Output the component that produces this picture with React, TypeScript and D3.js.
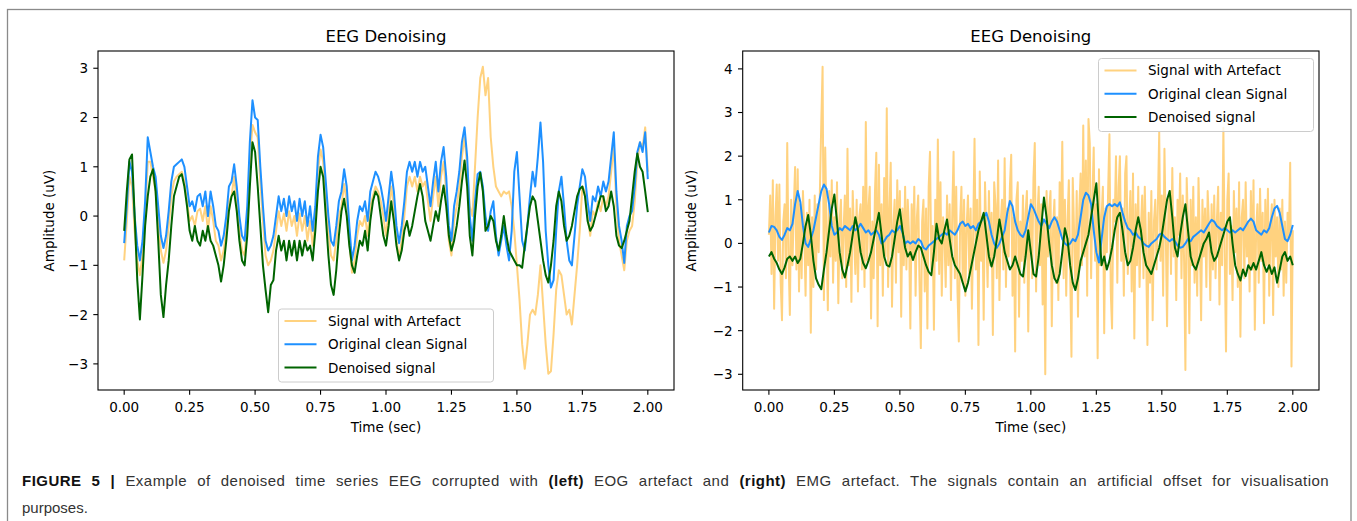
import React from 'react';
import * as d3 from 'd3';

const W = 1357;
const H = 521;

// sampling steps (sec)
const STEP_SLOW = 0.01;
const STEP_FAST = 0.005;

const X_TICKS = [0, 0.25, 0.5, 0.75, 1, 1.25, 1.5, 1.75, 2];
const X_TICK_LABELS = ['0.00', '0.25', '0.50', '0.75', '1.00', '1.25', '1.50', '1.75', '2.00'];
const LEFT_Y_TICKS = [-3, -2, -1, 0, 1, 2, 3];
const RIGHT_Y_TICKS = [-3, -2, -1, 0, 1, 2, 3, 4];
const SERIES_NAMES = ['Signal with Artefact', 'Original clean Signal', 'Denoised signal'];

// left panel: EOG artefact, 0.01 s step
const LEFT_ARTEFACT = [
  -0.9, -0.1, 0.8, 0.6, -0.3, -0.9, -1.2, -0.8, 0.0, 1.1,
  1.1, 0.8, 0.5, -0.1, -0.7, -0.95, -0.7, -0.2, 0.4, 0.7,
  0.8, 0.85, 0.9, 0.7, 0.3, -0.1, 0.0, -0.2, 0.1, 0.15,
  -0.1, 0.2, -0.3, 0.2, -0.1, -0.5, -0.6, -0.9, -0.7, -0.3,
  0.3, 0.4, 0.8, 0.3, -0.3, -0.7, -0.8, -0.1, 1.1, 1.85,
  1.7, 1.6, 0.7, -0.1, -0.8, -1.0, -0.9, -0.7, -0.3, 0.1,
  -0.2, 0.05, -0.3, 0.1, -0.2, 0.0, -0.4, 0.05, -0.3, 0.0,
  -0.5, -0.1, -0.6, -0.1, 0.9, 1.35, 1.1, 0.4, -0.3, -0.8,
  -0.9, -0.5, 0.0, 0.2, 0.65, 0.3, -0.5, -1.15, -0.9, -0.4,
  -0.1, -0.2, 0.0, -0.4, 0.2, 0.4, 0.6, 0.5, 0.3, 0.0,
  -0.4, 0.1, 0.6, 0.2, -0.5, -0.85, -0.5, 0.0, 0.6, 0.8,
  0.6, 0.8, 0.5, 0.8, 0.6, 0.7, 0.3, -0.1, 0.4, 0.8,
  0.2, 0.8, 1.1, 0.5, -0.5, -0.8, -0.1, 0.2, 0.6, 1.2,
  1.6, 1.0, 0.2, 0.0, 1.0, 2.0, 2.8, 3.03, 2.45, 2.8,
  1.6, 1.0, 0.6, 0.5, 0.4, 0.5, 0.45, 0.5, 0.2, -0.3,
  -1.0, -1.7, -2.6, -3.1, -2.6, -2.0, -1.9, -2.0, -1.6, -1.0,
  -1.8, -2.6, -3.2, -3.15, -2.4, -1.5, -1.1, -1.2, -1.6, -2.0,
  -1.9, -2.2, -1.6, -1.0, -0.3, 0.6, 0.5, 0.0, -0.4, 0.1,
  0.0, 0.3, 0.1, 0.4, 0.2, 0.4, 0.9, 1.4, 0.2, -0.5,
  -0.8, -1.1, -0.5, -0.3, -0.2, 0.3, 1.1, 1.5, 1.4, 1.8,
  0.9,
];

const LEFT_CLEAN = [
  -0.55, 0.2, 1.1, 0.9, 0.0, -0.6, -0.9, -0.5, 0.3, 1.6,
  1.3, 1.0, 0.8, 0.2, -0.4, -0.65, -0.4, 0.1, 0.7, 1.0,
  1.05, 1.1, 1.15, 1.0, 0.6, 0.2, 0.3, 0.1, 0.4, 0.45,
  0.2, 0.5, 0.0, 0.5, 0.2, -0.2, -0.3, -0.6, -0.4, 0.0,
  0.6, 0.7, 1.05, 0.6, 0.0, -0.4, -0.5, 0.2, 1.5, 2.35,
  2.0, 1.95, 1.0, 0.2, -0.5, -0.7, -0.6, -0.4, 0.0, 0.4,
  0.1, 0.35, 0.0, 0.4, 0.1, 0.3, -0.1, 0.35, 0.0, 0.3,
  -0.2, 0.2, -0.3, 0.2, 1.2, 1.65, 1.4, 0.7, 0.0, -0.5,
  -0.6, -0.2, 0.3, 0.5, 0.95, 0.6, -0.2, -0.9, -0.6, -0.1,
  0.2, 0.1, 0.3, -0.1, 0.5, 0.7, 0.9, 0.8, 0.6, 0.3,
  -0.1, 0.4, 0.9, 0.5, -0.2, -0.55, -0.2, 0.3, 0.9, 1.1,
  0.9, 1.1, 0.8, 1.1, 0.9, 1.0, 0.6, 0.2, 0.7, 1.1,
  0.5, 1.1, 1.4, 0.8, -0.2, -0.5, 0.2, 0.5, 0.9, 1.5,
  1.8, 1.2, 0.0, -0.5, 0.3, 0.85, 0.9, 0.6, 0.0, -0.3,
  0.1, 0.3, -0.4, -0.8, -0.5, -0.2, -0.6, -0.9, -0.3, 0.9,
  1.3, 0.4, -0.5, -0.7, -0.2, 0.4, 0.9, 0.6, 1.2, 1.9,
  1.1, -0.3, -1.0, -1.45, -1.3, -0.3, 0.5, 0.8, 0.2, -0.5,
  -0.9, -1.0, -0.4, 0.2, 0.6, 0.95, 0.8, 0.3, -0.1, 0.4,
  0.3, 0.6, 0.4, 0.7, 0.5, 0.7, 1.2, 1.7, 0.5, -0.2,
  -0.5, -0.95, -0.2, 0.0, 0.1, 0.6, 1.3, 1.5, 1.3, 1.7,
  0.75,
];

const LEFT_DENOISED = [
  -0.3, 0.5, 1.15, 1.25, 0.0, -1.3, -2.1, -1.2, -0.2, 0.4,
  0.8, 0.95, 0.5, -0.5, -1.6, -2.05, -1.4, -0.9, -0.2, 0.4,
  0.6, 0.8, 0.85, 0.6, 0.2, -0.3, -0.5, -0.2, -0.5, -0.6,
  -0.3, -0.5, -0.2, -0.5, -0.6, -0.8, -1.0, -1.33, -1.0, -0.5,
  0.1, 0.4, 0.5, 0.1, -0.5, -0.9, -1.0, -0.4, 0.6, 1.5,
  1.3, 0.6, -0.2, -1.0, -1.5, -1.95, -1.4, -1.3, -0.7, -0.4,
  -0.7, -0.5, -0.9, -0.5, -0.8, -0.5, -0.9, -0.5, -0.8, -0.5,
  -0.7, -0.6, -0.9, -0.3, 0.5, 1.0, 0.8, 0.0, -0.8, -1.4,
  -1.6, -1.1, -0.4, 0.1, 0.35, 0.0, -0.6, -1.0, -1.15, -0.8,
  -0.5, -0.6, -0.3, -0.7, -0.1, 0.3, 0.5, 0.4, 0.0, -0.4,
  -0.6, -0.2, 0.3, -0.1, -0.6, -0.9, -0.7, -0.3, -0.1, -0.4,
  -0.2, 0.1, 0.4, 0.65, 0.4, -0.1, -0.3, -0.5, -0.2, 0.1,
  -0.1, 0.3, 0.62, 0.2, -0.4, -0.7, -0.5, -0.2, 0.2, 0.7,
  1.13, 0.6, -0.4, -0.8, 0.0, 0.6, 0.88, 0.5, -0.3, -0.2,
  0.0, -0.1, -0.5, -0.7, -0.4, 0.0, -0.4, -0.7, -0.8, -0.9,
  -1.0, -1.0, -1.05, -0.6, -0.2, 0.2, 0.4, 0.3, -0.1, -0.5,
  -0.9, -1.2, -1.35, -1.0, -0.5, 0.2, 0.5, 0.3, -0.2, -0.5,
  -0.4, -0.2, 0.1, 0.4, 0.55, 0.6, 0.4, -0.1, -0.3, -0.2,
  0.0, 0.2, 0.4, 0.4, 0.1, 0.2, 0.5, 0.2, -0.4, -0.6,
  -0.65, -0.5, -0.3, -0.1, 0.4, 0.9, 1.27, 1.0, 0.9, 0.5,
  0.08,
];

// right panel: EMG artefact, 0.005 s step
const RIGHT_ARTEFACT = [
  0.2, 1.1, -0.7, 1.45, -1.5, 0.6, 1.35, -0.4, 1.35, -0.9,
  -1.76, 0.5, 0.9, -0.8, 2.3, -0.3, -1.64, 1.0, -0.5, 0.8,
  1.75, -0.6, 1.7, -1.1, 0.9, -0.8, 1.2, 0.3, -1.2, 0.7,
  -0.5, 1.0, -2.05, 0.6, -1.0, 1.1, -0.6, 0.9, -0.2, 1.3,
  2.78, 4.05, -1.3, 2.2, 0.4, -1.53, 1.2, -0.3, 1.45, -0.9,
  0.6, -0.4, 1.4, -1.37, 0.5, 1.0, -0.8, 0.3, 1.1, -1.0,
  2.17, -0.5, 0.8, -1.34, 1.2, 0.2, -0.7, 1.0, -1.1, 0.6,
  0.9, -0.6, 1.3, -1.0, 2.78, -0.4, 0.8, 1.3, -1.72, 0.5,
  -0.8, 1.2, 2.08, -1.9, 1.8, -0.5, 0.9, -1.2, 1.5, -0.3,
  3.1, -1.0, 0.7, 1.85, -1.45, 0.4, 1.0, -0.9, 1.45, -0.2,
  1.2, -1.68, 0.8, -0.5, 1.3, -0.6, 1.0, 0.2, -1.95, 0.9,
  -0.3, 1.3, -1.2, 0.6, 1.1, -0.9, -2.4, 0.5, 1.0, -1.1,
  0.8, -1.95, 1.3, 2.1, -0.6, 0.4, -1.98, 1.0, -0.4, 2.38,
  -0.7, 1.4, -1.2, 0.6, 0.2, -1.0, 1.1, -0.5, 0.9, -1.3,
  0.7, 2.1, -0.8, 1.3, -1.1, -2.25, 0.5, 1.3, -0.9, 1.0,
  -1.2, 0.4, 1.1, -0.7, 0.8, -1.5, 0.3, 2.4, -0.6, 1.0,
  -2.33, 1.65, -0.4, 0.6, -1.75, 1.4, 0.2, -1.0, 1.2, -0.5,
  0.7, -2.1, 1.4, 0.9, -0.8, 1.9, -1.3, 0.5, 1.0, -0.6,
  1.95, -1.0, 0.8, -0.3, 1.3, 2.03, -1.2, 0.6, -2.48, 1.0,
  1.4, -1.68, 0.5, -0.4, 1.1, -0.9, 0.7, 1.2, -2.02, 0.4,
  1.0, -0.8, 1.5, 2.3, -1.1, 0.6, 1.3, -0.5, 0.9, -1.4,
  0.5, -3.0, 1.2, -0.3, 0.8, 1.2, -1.9, 0.4, 1.0, -0.9,
  0.6, -1.3, 1.4, 0.2, 2.33, -0.8, 1.0, -1.2, 0.5, 1.45,
  -0.6, -2.6, 1.5, 0.3, -1.0, 1.2, -1.68, 0.8, 1.6, -0.5,
  2.7, -0.3, 1.9, -1.2, 2.85, 2.3, -0.8, 1.0, 2.2, -0.4,
  0.9, -2.63, 1.7, -0.5, 0.6, 1.3, -2.06, 0.8, -0.2, 1.2,
  2.5, -1.1, -1.95, 1.0, 0.5, 2.0, -0.9, 1.3, 2.0, -0.4,
  0.8, -1.2, 1.6, 2.0, -0.7, 0.4, 1.2, -1.1, 1.6, -2.18,
  0.9, -0.5, 1.3, -1.0, 0.3, 1.1, -0.8, 1.3, -0.2, -2.33,
  0.7, -0.9, 1.2, -1.76, 0.5, 1.0, -0.6, 0.9, 2.55, -0.4,
  1.1, -1.2, 2.17, 0.3, -1.9, 0.8, 1.2, -0.7, 1.73, -0.3,
  0.6, -1.3, 1.0, 0.2, 1.6, -0.8, 1.1, -0.4, -2.9, 1.5,
  0.4, -2.06, 1.0, -0.5, 1.3, -0.9, 0.6, -1.2, 1.5, 0.1,
  -1.76, 1.0, -0.3, 0.8, -1.0, 1.2, 0.4, -1.3, 0.9, -0.6,
  1.1, -0.8, 0.5, 1.3, -1.4, 0.7, -0.5, 2.65, -0.2, -2.48,
  1.0, 1.6, -0.7, 0.4, -1.3, 1.2, -0.2, 0.8, -1.0, 1.4,
  -2.14, 0.6, 1.0, -0.8, 1.4, -0.3, 0.5, -1.1, 1.2, -0.6,
  1.45, -1.98, 0.3, 0.9, -0.9, 1.25, -0.4, 0.7, -1.83, 1.0,
  -0.5, 1.25, -1.2, 0.4, 0.9, -1.64, 1.0, -0.3, 0.6, -1.0,
  0.8, -0.6, 1.0, -1.2, 0.5, -0.9, 0.7, 0.1, 1.85, -2.82,
  0.3,
];

const RIGHT_CLEAN = [
  0.25, 0.4, 0.38, 0.3, 0.15, 0.08, 0.2, 0.35, 0.3, 0.45,
  0.9, 1.2, 0.95, 0.4, 0.0, -0.08, 0.1, 0.3, 0.6, 0.9,
  1.2, 1.35, 1.25, 0.9, 0.4, 0.2, 0.25, 0.35, 0.3, 0.4,
  0.35, 0.3, 0.4, 0.3, 0.35, 0.45, 0.35, 0.25, 0.3, 0.2,
  0.25, 0.3, 0.2, 0.0, 0.05, 0.15, 0.2, 0.3, 0.25, 0.3,
  0.4, 0.25, 0.0, 0.05, 0.0, 0.05, 0.0, 0.1, 0.05, -0.1,
  -0.14, -0.05, 0.0, 0.05, 0.1, 0.15, 0.2, 0.25, 0.2, 0.3,
  0.25, 0.2, 0.3, 0.45, 0.5, 0.4, 0.45, 0.35, 0.4, 0.3,
  0.45, 0.5, 0.6, 0.7, 0.5, 0.2, 0.0, -0.1, 0.0, 0.15,
  0.3, 0.7, 0.97, 0.85, 0.5, 0.3, 0.2, 0.15, 0.3, 0.6,
  0.9, 0.8, 0.65, 0.5, 0.4, 0.55, 0.45, 0.35, 0.5, 0.6,
  0.5, 0.3, 0.1, 0.0, -0.05, 0.0, 0.1, 0.05, 0.2, 0.6,
  1.0, 1.16, 1.1, 0.9, 0.3, -0.2, -0.44, 0.1, 0.6, 0.85,
  0.9, 0.85, 0.9, 0.85, 0.94, 0.7, 0.5, 0.35, 0.3, 0.2,
  0.25, 0.15, 0.1, 0.0, -0.05, -0.08, 0.0, 0.05, 0.1, 0.2,
  0.23, 0.15, 0.1, 0.05, 0.1, 0.05, -0.05, -0.1, -0.08, 0.0,
  0.1, 0.05, 0.15, 0.2, 0.25, 0.3, 0.25, 0.35, 0.45, 0.54,
  0.5, 0.4, 0.35, 0.3, 0.35, 0.3, 0.25, 0.3, 0.25, 0.3,
  0.35, 0.3, 0.4, 0.5, 0.57, 0.5, 0.3, 0.25, 0.2, 0.3,
  0.25, 0.35, 0.6, 0.8, 0.86, 0.7, 0.4, 0.1, 0.05, 0.2,
  0.42,
];

const RIGHT_DENOISED = [
  -0.3, -0.2, -0.35, -0.45, -0.6, -0.7, -0.55, -0.35, -0.3, -0.4,
  -0.3, -0.45, -0.35, 0.0, 0.4, 0.65, 0.2, -0.4, -0.8, -0.95,
  -1.05, -0.6, -0.2, 0.3, 0.8, 1.12, 0.5, -0.2, -0.6, -0.78,
  -0.5, -0.2, 0.2, 0.6, 0.3, -0.2, -0.45, -0.57, -0.4, -0.2,
  0.1, 0.4, 0.7, 0.2, -0.3, -0.5, -0.53, -0.3, 0.1, 0.5,
  0.78, 0.3, -0.1, -0.3, -0.2, -0.38, -0.2, -0.05, -0.1, -0.3,
  -0.5, -0.65, -0.73, -0.2, 0.45, 0.1, 0.0, 0.3, 0.55, 0.1,
  -0.3, -0.5, -0.6, -0.7, -0.9, -1.1, -0.9, -0.6, -0.3, 0.0,
  0.3, 0.5, 0.7, 0.2, -0.3, -0.53, -0.3, 0.1, 0.55, 0.2,
  -0.2, -0.4, -0.6, -0.5, -0.3, -0.5, -0.7, -0.76, -0.3, 0.3,
  -0.2, -0.7, -0.76, -0.3, 0.4, 1.05, 0.6, 0.0, -0.5, -0.8,
  -0.9, -0.7, -0.2, 0.35, 0.1, -0.5, -0.9, -1.07, -0.8, -0.4,
  -0.2, 0.0, 0.2, 0.6, 1.0, 1.38, 0.4, -0.5, -0.3, -0.6,
  -0.4, -0.1, 0.3, 0.6, 0.7, 0.3, -0.2, -0.5, -0.4, -0.1,
  0.3, 0.6, 0.3, -0.2, -0.5, -0.6, -0.7, -0.5, -0.3, -0.1,
  0.2, 0.6, 1.0, 1.2, 0.6, -0.1, -0.3, 0.2, 0.6, 0.9,
  0.3, -0.3, -0.5, -0.6, -0.4, -0.2, 0.0, 0.1, 0.25, -0.2,
  -0.4, -0.3, -0.1, 0.1, 0.3, 0.5, 0.6, 0.0, -0.5, -0.7,
  -0.85, -0.6, -0.75, -0.5, -0.6, -0.45, -0.6, -0.4, -0.2, -0.5,
  -0.65, -0.5, -0.7, -0.55, -0.9, -0.6, -0.3, -0.2, -0.4, -0.3,
  -0.5,
];

const ARTEFACT_COLOR = '#FFA500';
const CLEAN_COLOR = '#1E90FF';
const DENOISED_COLOR = '#006400';

const PLOT_FONT = '"DejaVu Sans", Verdana, sans-serif';
const TICK_FS = 13.5;

type Series = { values: number[]; step: number; color: string; opacity: number };

type PanelProps = {
  id: string;
  left: number;
  right: number;
  top: number;
  bottom: number;
  yDomain: [number, number];
  yTicks: number[];
  yLabelX: number;
  legend: { x: number; y: number };
  series: Series[];
};

function Panel(p: PanelProps) {
  const x = d3.scaleLinear().domain([-0.1, 2.1]).range([p.left, p.right]);
  const y = d3.scaleLinear().domain(p.yDomain).range([p.bottom, p.top]);
  const cx = (p.left + p.right) / 2;
  const cy = (p.top + p.bottom) / 2;
  const fmt = (v: number) => (v < 0 ? '\u2212' + Math.abs(v) : String(v));

  return (
    <g fontFamily={PLOT_FONT}>
      <defs>
        <clipPath id={p.id}>
          <rect x={p.left} y={p.top} width={p.right - p.left} height={p.bottom - p.top} />
        </clipPath>
      </defs>
      <text x={cx} y={41.5} textAnchor="middle" fontSize={16.5}>EEG Denoising</text>

      <g clipPath={`url(#${p.id})`}>
        {p.series.map((s, k) => {
          const line = d3.line<number>()
            .x((_, i) => x(i * s.step))
            .y(d => y(d));
          return (
            <path key={k} d={line(s.values) || ''} fill="none" stroke={s.color}
              strokeOpacity={s.opacity} strokeWidth={2} strokeLinejoin="round" />
          );
        })}
      </g>

      <rect x={p.left} y={p.top} width={p.right - p.left} height={p.bottom - p.top}
        fill="none" stroke="#000" strokeWidth={1.1} />

      {X_TICKS.map((t, i) => (
        <g key={i}>
          <line x1={x(t)} x2={x(t)} y1={p.bottom} y2={p.bottom + 4.7} stroke="#000" strokeWidth={1.1} />
          <text x={x(t)} y={411.5} textAnchor="middle" fontSize={TICK_FS}>{X_TICK_LABELS[i]}</text>
        </g>
      ))}
      {p.yTicks.map(v => (
        <g key={v}>
          <line x1={p.left - 4.7} x2={p.left} y1={y(v)} y2={y(v)} stroke="#000" strokeWidth={1.1} />
          <text x={p.left - 10} y={y(v) + 4.9} textAnchor="end" fontSize={TICK_FS}>{fmt(v)}</text>
        </g>
      ))}

      <text x={cx} y={432} textAnchor="middle" fontSize={TICK_FS}>Time (sec)</text>
      <text transform={`translate(${p.yLabelX},${cy}) rotate(-90)`} textAnchor="middle" fontSize={TICK_FS}>
        Amplitude (uV)
      </text>

      <g>
        <rect x={p.legend.x} y={p.legend.y} width={215} height={73} rx={3}
          fill="#fff" fillOpacity={0.8} stroke="#cccccc" strokeWidth={1} />
        {SERIES_NAMES.map((name, i) => {
          const ly = p.legend.y + 12 + i * 23.3;
          const s = p.series[i];
          return (
            <g key={name}>
              <line x1={p.legend.x + 6} x2={p.legend.x + 38} y1={ly} y2={ly}
                stroke={s.color} strokeOpacity={s.opacity} strokeWidth={2} />
              <text x={p.legend.x + 49.5} y={ly + 4.9} fontSize={TICK_FS}>{name}</text>
            </g>
          );
        })}
      </g>
    </g>
  );
}

export default function App() {
  const captionFont = '"Liberation Sans", Arial, Helvetica, sans-serif';
  return (
    <svg width={W} height={H} style={{ position: 'absolute', left: 0, top: 0, display: 'block', background: '#fff' }}>
      <rect x={7.5} y={9.5} width={1343.5} height={600} fill="#fff" stroke="#8a8a8a" strokeWidth={1.3} />

      <Panel
        id="clip-left"
        left={98} right={674} top={51} bottom={390}
        yDomain={[-3.53, 3.35]} yTicks={LEFT_Y_TICKS} yLabelX={54}
        legend={{ x: 278.5, y: 309 }}
        series={[
          { values: LEFT_ARTEFACT, step: STEP_SLOW, color: ARTEFACT_COLOR, opacity: 0.5 },
          { values: LEFT_CLEAN, step: STEP_SLOW, color: CLEAN_COLOR, opacity: 1 },
          { values: LEFT_DENOISED, step: STEP_SLOW, color: DENOISED_COLOR, opacity: 1 },
        ]}
      />
      <Panel
        id="clip-right"
        left={742.7} right={1319} top={51} bottom={390}
        yDomain={[-3.36, 4.41]} yTicks={RIGHT_Y_TICKS} yLabelX={696.3}
        legend={{ x: 1098.5, y: 58.5 }}
        series={[
          { values: RIGHT_ARTEFACT, step: STEP_FAST, color: ARTEFACT_COLOR, opacity: 0.5 },
          { values: RIGHT_CLEAN, step: STEP_SLOW, color: CLEAN_COLOR, opacity: 1 },
          { values: RIGHT_DENOISED, step: STEP_SLOW, color: DENOISED_COLOR, opacity: 1 },
        ]}
      />

      <g fontFamily={captionFont} fontSize={15} fill="#333">
        {/* justified first line */}
        <text x={22} y={486} wordSpacing={5.5} letterSpacing={0.47}>
          <tspan fontWeight="bold" fill="#111">FIGURE 5 |</tspan>
          <tspan> Example of denoised time series EEG corrupted with </tspan>
          <tspan fontWeight="bold" fill="#111">(left)</tspan>
          <tspan> EOG artefact and </tspan>
          <tspan fontWeight="bold" fill="#111">(right)</tspan>
          <tspan> EMG artefact. The signals contain an artificial offset for visualisation</tspan>
        </text>
        <text x={22} y={512.5}>purposes.</text>
      </g>
    </svg>
  );
}
